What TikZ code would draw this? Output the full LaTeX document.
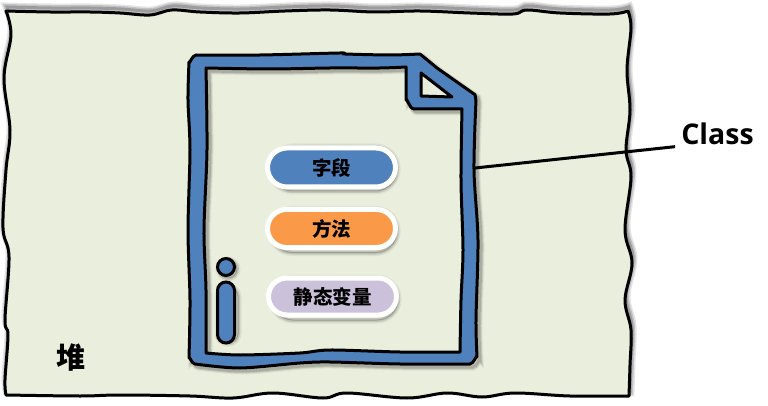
\documentclass[tikz,border=0pt]{standalone}
\usepackage{fontspec}
\setmainfont{Open Sans}[BoldFont={Open Sans Bold}]
\newfontfamily\cjkfont{Noto Sans CJK SC}
\usetikzlibrary{shapes.misc, positioning}
\definecolor{heapgreen}{HTML}{EAEEDD}
\definecolor{classblue}{HTML}{4F81BD}
\definecolor{methodorange}{HTML}{FA9A48}
\definecolor{staticpurple}{HTML}{CCC1DA}
\tikzstyle{sketch} = [line width=3pt, black, line join=round, line cap=round]
\tikzstyle{pill} = [draw=white, line width=5pt, rounded rectangle, minimum width=128pt, minimum height=39pt, inner sep=0pt, font=\cjkfont\bfseries\fontsize{19.5}{20}\selectfont]
\tikzstyle{infobar} = [draw=black, line width=3pt, fill=classblue, inner sep=0pt]
\newcommand{\heappath}{plot[smooth,tension=.6] coordinates {(6,11) (50,12) (90,12) (120,13) (150,15) (172,10) (200,12) (240,13) (285,11) (330,10) (375,12) (420,11) (470,13) (513,14) (527,10) (560,13) (610,14) (628,11)}
  -- plot[smooth,tension=.6] coordinates {(628,11) (631,28) (627,70) (630,110) (626,150) (631,177) (625,230) (632,263) (625,300) (631,330) (630,365) (629,396)}
  -- plot[smooth,tension=.6] coordinates {(629,396) (570,396) (515,393) (482,397) (447,393) (407,398) (347,393) (323,398) (273,393) (233,398) (190,396) (120,395) (80,396) (6,395)}
  -- plot[smooth,tension=.6] coordinates {(6,395) (5,380) (8,335) (5,320) (9,257) (3,228) (6,170) (10,130) (4,78) (11,35) (6,11)} -- cycle}
\newcommand{\classouter}{(189,62) to[out=-90,in=180] (196,55) -- plot[smooth,tension=.5] coordinates {(196,55) (260,55) (340,53) (345,54) (390,55) (420,54)}
  -- (437,68) -- (474,94) to[out=60,in=-90] (476,100) -- plot[smooth,tension=.5] coordinates {(476,100) (474,170) (478,240) (476,320) (477,357)} to[out=90,in=0] (470,364)
  -- plot[smooth,tension=.5] coordinates {(470,364) (400,364) (330,362) (300,363) (240,368) (195,364)} to[out=180,in=90] (189,358)
  -- plot[smooth,tension=.5] coordinates {(189,358) (190,300) (188,230) (190,150) (188,100) (189,62)} -- cycle}
\newcommand{\classinner}{plot[smooth,tension=.5] coordinates {(206,68) (270,69) (330,68) (380,68) (406,67)}
  -- (406,100) to[out=90,in=180] (414,109) -- (462,109) -- plot[smooth,tension=.5] coordinates {(462,109) (461,180) (463,250) (461,300) (460,352)}
  -- plot[smooth,tension=.5] coordinates {(460,352) (400,352) (330,350) (300,353) (240,355) (206,353)}
  -- plot[smooth,tension=.5] coordinates {(206,353) (206,290) (204,230) (207,150) (206,68)} -- cycle}
\newcommand{\classfold}{(421,73) -- (421,96) -- (452,97) -- cycle}

\begin{document}
\begin{tikzpicture}[x=1pt, y=-1pt]
    \useasboundingbox (0,0) rectangle (768,406);

    % Heap
    \foreach \w/\o in {9/.10, 6/.15, 3/.2} {
        \draw [line width=\w pt, black, opacity=\o, shift={(1,-4)}] \heappath;
    }
    \fill [heapgreen] \heappath;
    \draw [sketch] \heappath;
    \node (heap) [font=\cjkfont\bfseries\fontsize{29}{29}\selectfont, inner sep=0pt] at (71,358) {堆};

    % Class
    \foreach \w/\o in {7/.06, 5/.1, 3/.14} {
        \draw [line width=\w pt, black, opacity=\o, shift={(3,3)}] \classouter;
        \draw [line width=\w pt, black, opacity=\o, shift={(3,3)}] \classinner;
    }
    \fill [classblue, even odd rule] \classouter \classinner \classfold;
    \draw [sketch] \classouter;
    \draw [sketch] \classinner;
    \draw [sketch] \classfold;

    % Members
    \foreach \w/\o in {7/.06, 4/.12, 1/.2} {
        \node [rounded rectangle, minimum width=133pt, minimum height=44pt, draw=black, line width=\w pt, opacity=\o] at (334,169) {};
        \node [rounded rectangle, minimum width=133pt, minimum height=43pt, draw=black, line width=\w pt, opacity=\o] at (334,231) {};
        \node [rounded rectangle, minimum width=133pt, minimum height=42pt, draw=black, line width=\w pt, opacity=\o] at (335,299) {};
    }
    \node (field) [pill, fill=classblue] at (331.5,167.5) {字段};
    \node (method) [pill, fill=methodorange, minimum height=38pt] at (331.5,228.5) {方法};
    \node (static) [pill, fill=staticpurple, minimum height=37pt] at (332.5,296.5) {静态变量};

    % Info mark
    \foreach \w/\o in {7/.06, 4/.12, 1/.2} {
        \node [rounded rectangle, rotate=90, minimum width=63pt, minimum height=20pt, draw=black, line width=\w pt, opacity=\o] at (228,315) {};
        \draw [line width=\w pt, black, opacity=\o] (228,269) circle (9);
    }
    \node (infodot) [infobar, circle, minimum size=17pt] at (226,267) {};
    \node (infostem) [infobar, rounded rectangle, rotate=90, minimum width=61pt, minimum height=17pt] at (226,312.5) {};

    % Label
    \node (classlabel) [font=\bfseries\fontsize{28.5}{29}\selectfont, inner sep=0pt] at (717.5,133.5) {Class};
    \coordinate (classedge) at (475,168);
    \draw [line width=3pt, black] (classedge) -- ([xshift=-6pt,yshift=-2pt]classlabel.south west);
\end{tikzpicture}
\end{document}
